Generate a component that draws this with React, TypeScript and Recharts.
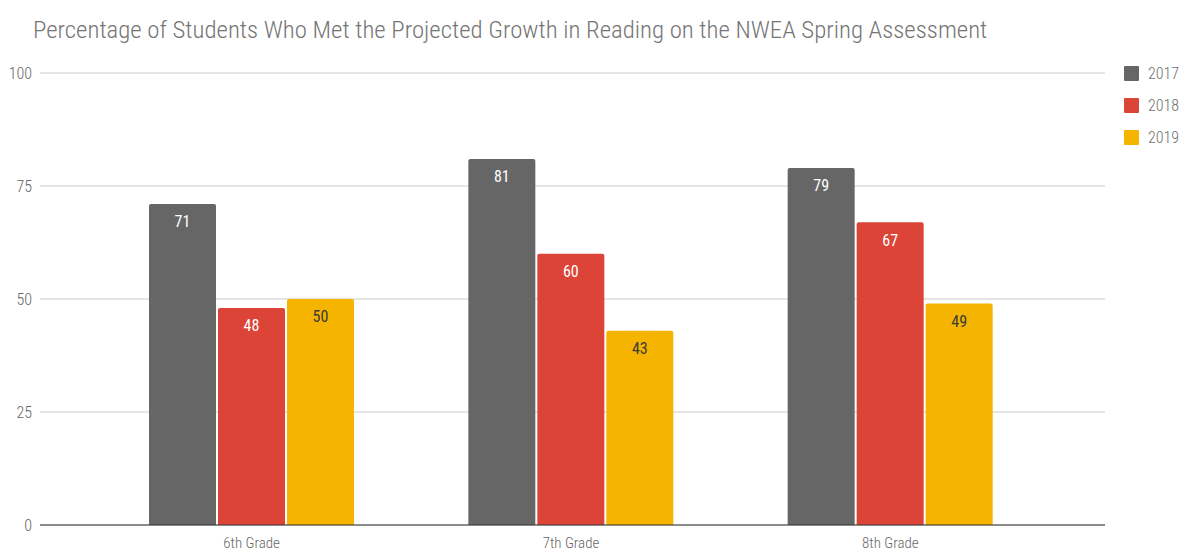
import React from 'react';
import { BarChart, Bar, XAxis, YAxis, CartesianGrid, LabelList, Legend } from 'recharts';

const grades = ['6th Grade', '7th Grade', '8th Grade'];
const y2017 = [71, 81, 79];
const y2018 = [48, 60, 67];
const y2019 = [50, 43, 49];
const yTicks = [0, 25, 50, 75, 100];

const SERIES = [
  { key: '2017', color: '#666666', label: '#ffffff' },
  { key: '2018', color: '#db4437', label: '#ffffff' },
  { key: '2019', color: '#f4b400', label: '#3a3a3a' },
];

const FONT = "'Roboto Condensed', 'DejaVu Sans Condensed', 'Liberation Sans Narrow', Roboto, sans-serif";

const data = grades.map((g, i) => ({ name: g, '2017': y2017[i], '2018': y2018[i], '2019': y2019[i] }));

const LegendBox = () => (
  <div style={{ fontFamily: FONT }}>
    {SERIES.map(s => (
      <div key={s.key} style={{ display: 'flex', alignItems: 'center', height: 32 }}>
        <span style={{ width: 15, height: 15, background: s.color, display: 'inline-block', marginRight: 9, borderRadius: 1 }} />
        <span style={{ color: '#707070', fontSize: 16, fontWeight: 300 }}>{s.key}</span>
      </div>
    ))}
  </div>
);

export default function App() {
  return (
    <div style={{ position: 'absolute', left: 0, top: 0, width: 1196, height: 552, background: '#fff' }}>
      <div
        style={{
          position: 'absolute', left: 33, top: 15, fontFamily: FONT, fontSize: 24.8, fontWeight: 300,
          color: '#757575', whiteSpace: 'nowrap',
        }}
      >
        Percentage of Students Who Met the Projected Growth in Reading on the NWEA Spring Assessment
      </div>
      <BarChart
        width={1196}
        height={552}
        data={data}
        margin={{ top: 73, right: 21, bottom: 0, left: 0 }}
        barSize={67}
        barGap={2}
      >
        <CartesianGrid vertical={false} stroke="#cccccc" />
        <XAxis
          dataKey="name"
          height={27}
          padding={{ left: 52, right: 55 }}
          tickLine={false}
          axisLine={{ stroke: '#333333' }}
          tick={{ fill: '#666', fontSize: 15, fontFamily: FONT, fontWeight: 300, dy: 4 }}
        />
        <YAxis
          width={40}
          domain={[0, 100]}
          ticks={yTicks}
          axisLine={false}
          tickLine={false}
          tick={{ fill: '#666', fontSize: 16, fontFamily: FONT, fontWeight: 300 }}
        />
        <Legend
          layout="vertical"
          align="right"
          verticalAlign="top"
          content={LegendBox}
          wrapperStyle={{ top: 57, right: 2, width: 70 }}
        />
        {SERIES.map(s => (
          <Bar key={s.key} dataKey={s.key} fill={s.color} radius={[2, 2, 0, 0]} isAnimationActive={false}>
            <LabelList
              dataKey={s.key}
              position="insideTop"
              offset={12}
              fill={s.label}
              style={{ fontSize: 16, fontFamily: FONT }}
            />
          </Bar>
        ))}
      </BarChart>
    </div>
  );
}
